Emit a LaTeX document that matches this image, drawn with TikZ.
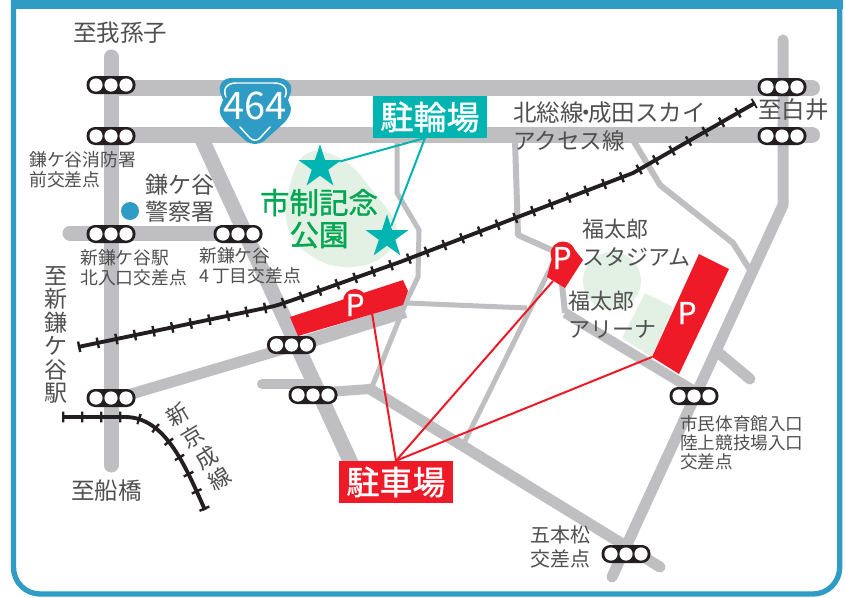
\documentclass[tikz,border=0pt]{standalone}
\usepackage{fontspec}
\setmainfont{Noto Sans CJK JP}
\newfontfamily\medf[FakeBold=1.2]{Noto Sans CJK JP}
\usetikzlibrary{shapes.geometric}
\newcommand\pxf[2]{\fontsize{\fpeval{#1*0.75}}{\fpeval{#2*0.75}}\selectfont}
\definecolor{roadc}{HTML}{BFBFC1}
\definecolor{framec}{HTML}{2E9CC4}
\definecolor{tealc}{HTML}{00B5B1}
\definecolor{redc}{HTML}{EF1A27}
\definecolor{parkc}{HTML}{E2F1E4}
\definecolor{greenc}{HTML}{00A651}
\definecolor{railc}{HTML}{231F20}
\definecolor{textc}{HTML}{505050}
\tikzset{
  road/.style={draw=roadc,line width=#1*0.75pt,line cap=round,line join=round},
  roadb/.style={draw=roadc,line width=#1*0.75pt,line cap=butt,line join=round},
  railbase/.style={draw=railc,line width=2.9pt,line join=round},
  railties/.style={draw=railc,line width=8pt,dash pattern=on 1.8pt off 12.45pt},
  label/.style={text=textc,inner sep=0pt,align=left,anchor=west},
  pmark/.style={text=white,inner sep=0pt,font=\medf\pxf{#1}{#1}},
  sign/.style={fill=#1,text=white,inner sep=0pt,minimum width=85.5pt,minimum height=31.5pt,font=\medf\pxf{33}{33}},
  starmark/.style={star,star points=5,star point ratio=2.618,fill=tealc,inner sep=0pt,minimum size=34pt},
  railname/.style={text=textc,inner sep=0pt,rotate=31,font=\pxf{22}{22}},
  tlight/.pic={
    \fill[railc,rounded corners=6.5pt] (-24.5,-9) rectangle (24.5,9);
    \foreach \d in {-15,0,15} \fill[white] (\d,0) circle (6.6);
  }
}
\begin{document}
\begin{tikzpicture}[x=0.75pt,y=-0.75pt]
\useasboundingbox (0,0) rectangle (845,597);
% frame
\fill[white] (0,0) rectangle (845,597);
\fill[framec] (11,0) rectangle (842.5,9);
\draw[framec,line width=4pt,rounded corners=20pt] (13.5,0) -- (13.5,594) -- (839.7,594) -- (839.7,0);
% parks
\fill[parkc] plot[smooth cycle,tension=0.7] coordinates {(308,153) (343,160) (372,190) (397,228) (385,255) (350,267) (313,257) (288,228) (290,185)};
\fill[parkc] (612,281) circle (29);
\fill[parkc] (645,293) -- (673,307) -- (652,357) -- (622,338) -- cycle;
% roads
\draw[road=15] (111,57) -- (111,465);
\draw[road=16] (111,88) -- (812,88);
\draw[road=16] (111,135) -- (812,135);
\draw[road=11] (783,40) -- (783,205) -- (612,577);
\draw[roadb=15] (200,135) -- (352,465);
\draw[road=15] (70,233) -- (255,233);
\draw[road=11] (111,400) -- (290,347);
\draw[roadb=14] (290,347) -- (405,311);
\draw[road=10] (262,384) -- (305,384);
\draw[roadb=10] (313,393) -- (370,389);
\draw[road=11] (370,389) -- (660,567);
\draw[roadb=5] (397,140) -- (397,193) -- (419,230) -- (418,277) -- (407,300) -- (372,387);
\draw[roadb=5] (407,303) -- (527,308);
\draw[roadb=5] (465,441) -- (553,263);
\draw[roadb=6] (515,140) -- (518,235) -- (556,252);
\draw[roadb=6] (560,265) -- (565,313);
\draw[roadb=10] (565,313) -- (693,390);
\draw[roadb=6] (633,140) -- (660,185) -- (733,243) -- (750,270);
\draw[road=11] (720,354) -- (750,379);
% red parking areas
\fill[redc] (355,301) circle (12);
\fill[redc] (290,317) -- (403,280) -- (408,291) -- (403,305) -- (298,336) -- cycle;
\fill[redc] (563,254) circle (12.5);
\fill[redc] (583,260) -- (565,288) -- (547,277) -- (552,258) -- (570,244) -- cycle;
\fill[redc] (699,254) -- (729,269) -- (679,374) -- (652,357) -- cycle;
% railways
\path (78,347) coordinate (r1) (400,262) coordinate (r2) (633,173) coordinate (r3) (755,103) coordinate (r4);
\def\mainrail{(r1) -- (270,307) .. controls (280,305) and (290,301) .. (r2) -- (r3) -- (r4)}
\draw[railbase] \mainrail;
\draw[railties] \mainrail;
\def\secondrail{(62,417) -- (125,417) .. controls (165,417) and (185,465) .. (205,510)}
\draw[railbase] \secondrail;
\draw[railties] \secondrail;
% shield
\fill[framec] (232,78) -- (278,78) .. controls (288,78) and (293,86) .. (291,92) -- (288,100) -- (291,108) .. controls (291,114) and (288,118) .. (285,122) -- (264,141) .. controls (259,145) and (251,145) .. (246,141) -- (225,122) .. controls (222,118) and (219,114) .. (220,108) -- (223,100) -- (220,92) .. controls (218,86) and (222,78) .. (232,78) -- cycle;
\draw[white,line width=1.1pt,line cap=round] (226,97) .. controls (222,88) and (228,83) .. (236,83) -- (274,83) .. controls (283,83) and (289,88) .. (285,97);
\draw[white,line width=1.1pt,line cap=round] (240,127) -- (250,138) .. controls (253,141) and (257,141) .. (260,138) -- (270,127);
\node[inner sep=0pt,text=white,font=\pxf{38}{38}] (r464) at (255,106) {464};
% signal lights
\foreach \nm/\x/\y in {a/111/85,b/111/136,c/111/234,d/238/234,e/291.5/345,f/111/398,g/313/395,h/782/87,i/782/136,j/694/396,k/626/554}
  \pic (\nm) at (\x,\y) {tlight};
% callout signs and stars
\node[sign=redc] (carsign) at (396,482) {駐車場};
\node[sign=tealc] (bikesign) at (430,117) {駐輪場};
\node[starmark] (star1) at (320,167) {};
\node[starmark] (star2) at (387,237) {};
\coordinate (bikefoot) at (425,138);
\draw[tealc,line width=1.5pt] (bikefoot) -- (star1);
\draw[tealc,line width=1.5pt] (bikefoot) -- (star2);
% parking marks
\node[pmark=30] (p1) at (355,305) {P};
\node[pmark=30] (p2) at (562,258) {P};
\node[pmark=30] (p3) at (687,313) {P};
\coordinate (p1foot) at (372,313);
\coordinate (p2foot) at (553,281);
\coordinate (p3foot) at (652,357);
\draw[redc,line width=1.5pt] (carsign.north) -- (p1foot);
\draw[redc,line width=1.5pt] (carsign.north) -- (p2foot);
\draw[redc,line width=1.5pt] (carsign.north) -- (p3foot);
% labels
\node[label,font=\pxf{23.5}{28}] (t1) at (73,33) {至我孫子};
\node[label,font=\pxf{17.8}{19.5}] (t2) at (29,169.5) {鎌ケ谷消防署\\前交差点};
\node[label,font=\pxf{23}{27}] (t3) at (145,198.5) {鎌ケ谷\\警察署};
\fill[framec] (130,211) circle (9);
\node[label,font=\pxf{17.8}{19.5}] (t4) at (80,267.5) {新鎌ケ谷駅\\北入口交差点};
\node[label,font=\pxf{17.8}{20}] (t5) at (199,266) {新鎌ケ谷\\4\,丁目交差点};
\node[text=textc,inner sep=0pt,align=center,font=\pxf{23}{23.4}] (t6) at (56,335) {至\\新\\鎌\\ケ\\谷\\駅};
\node[label,font=\pxf{23.5}{28}] (t7) at (71,491) {至船橋};
\node[railname] (t8a) at (178,415) {新};
\node[railname] (t8b) at (193,437) {京};
\node[railname] (t8c) at (207,458) {成};
\node[railname] (t8d) at (220,479) {線};
\node[inner sep=0pt,text=greenc,align=center,font=\medf\pxf{29.5}{32}] (t9) at (319,218.5) {市制記念\\公園};
\node[label,font=\pxf{23.5}{28}] (t10) at (513,127) {北総線\kern-0.4em・\kern-0.4em 成田スカイ\\{\pxf{22.6}{28}アクセス線}};
\node[label,font=\pxf{23.5}{28}] (t11) at (758,110) {至白井};
\node[label,font=\pxf{22}{28}] (t12) at (582,243) {福太郎\\スタジアム};
\node[label,font=\pxf{22}{28}] (t13) at (568,315) {福太郎\\アリーナ};
\node[label,font=\pxf{17.6}{19}] (t14) at (680,443) {市民体育館入口\\陸上競技場入口\\交差点};
\node[label,font=\pxf{20}{24}] (t15) at (530,547) {五本松\\交差点};
\end{tikzpicture}
\end{document}
